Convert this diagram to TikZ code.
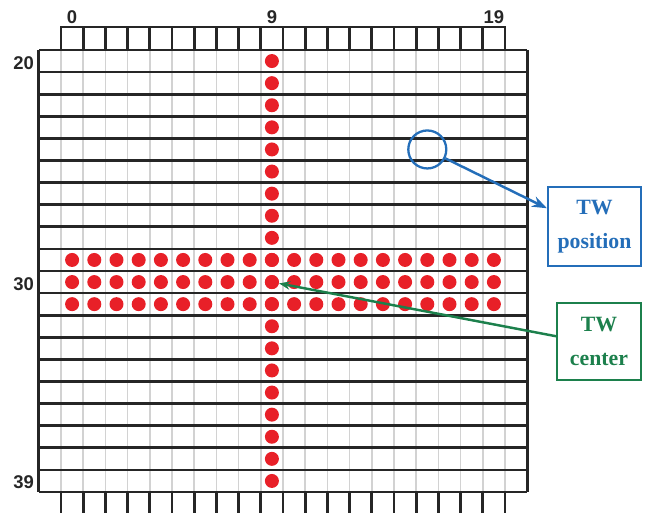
\documentclass[tikz,border=0pt]{standalone}
\usepackage{fontspec}
\newfontfamily\lblfont[BoldFont={Liberation Sans Bold}]{Liberation Sans}
\newfontfamily\boxfont[BoldFont={Liberation Serif Bold}]{Liberation Serif}
\usetikzlibrary{arrows.meta, positioning, calc}
\definecolor{dotRed}{RGB}{232,32,40}
\definecolor{twBlue}{RGB}{36,110,185}
\definecolor{twGreen}{RGB}{28,128,76}
\tikzset{
    >=Stealth,
    % Grid
    cellLine/.style={draw=gray!35, line width=1pt},
    rowLine/.style={draw=black!85, line width=1.5pt},
    topCell/.style={draw=black!85, line width=1.5pt},
    dot/.style={circle, fill=dotRed, inner sep=0pt, minimum size=0.28cm},
    % Labels & boxes
    lbl/.style={font=\lblfont\bfseries\fontsize{10.5}{12}\selectfont, text=black!85, inner sep=1pt},
    twBox/.style={rectangle, line width=1.2pt, fill=white, align=center,
                  font=\boxfont\bfseries\fontsize{12.4}{19}\selectfont},
    flow/.style={->, line width=1.4pt}
}

\begin{document}
\begin{tikzpicture}[x=0.02cm, y=-0.02cm]
\useasboundingbox (0,0) rectangle (646,512);
\def\cw{22.2}
\def\rh{22.1}

% grid lines
\foreach \k in {0,...,20}
    \draw[cellLine] ({61+\k*\cw},50) -- ({61+\k*\cw},492);
\foreach \j in {0,...,20}
    \draw[rowLine] (38.8,{50+\j*\rh}) -- (527.2,{50+\j*\rh});
\draw[rowLine] (38.8,50) -- (38.8,492);
\draw[rowLine] (527.2,50) -- (527.2,492);

% column cells above and below
\foreach \k in {0,...,19} {
    \draw[topCell] ({61+\k*\cw},50) rectangle ++(\cw,-23);
    \draw[topCell] ({61+\k*\cw},492) rectangle ++(\cw,23);
}

% dots
\foreach \c in {0,...,19}
    \foreach \r in {29,30,31}
        \node[dot] (d-\c-\r) at ({61+(\c+0.5)*\cw},{50+(\r-19.5)*\rh}) {};
\foreach \r in {20,...,39}
    \node[dot] (d-9-\r) at ({61+9.5*\cw},{50+(\r-19.5)*\rh}) {};

% labels
\node[lbl] (c0) at ({61+0.5*\cw},17) {0};
\node[lbl] (c9) at ({61+9.5*\cw},17) {9};
\node[lbl] (c19) at ({61+19.5*\cw},17) {19};
\node[lbl, anchor=east] (r20) at (36,{50+0.5*\rh+2}) {20};
\node[lbl, anchor=east] (r30) at (36,{50+10.5*\rh+2}) {30};
\node[lbl, anchor=east] (r39) at (36,{50+19.5*\rh+1}) {39};

% TW position and center
\node[circle, draw=twBlue, line width=1.3pt, minimum size=0.76cm, inner sep=0pt]
    (tpos) at ({61+16.5*\cw},{50+4.5*\rh}) {};
\node[twBox, draw=twBlue, text=twBlue, minimum width=1.86cm, minimum height=1.58cm]
    (posbox) at (594.5,226.5) {TW\\position};
\node[twBox, draw=twGreen, text=twGreen, minimum width=1.68cm, minimum height=1.54cm]
    (cenbox) at (599,341.5) {TW\\center};

\draw[flow, twBlue, -{Stealth[length=0.3cm, width=0.22cm]}] (tpos) -- (posbox.159);
\draw[flow, twGreen, -{Stealth[length=0.22cm, width=0.17cm]}] (cenbox.173) -- (d-9-30);

\end{tikzpicture}
\end{document}
